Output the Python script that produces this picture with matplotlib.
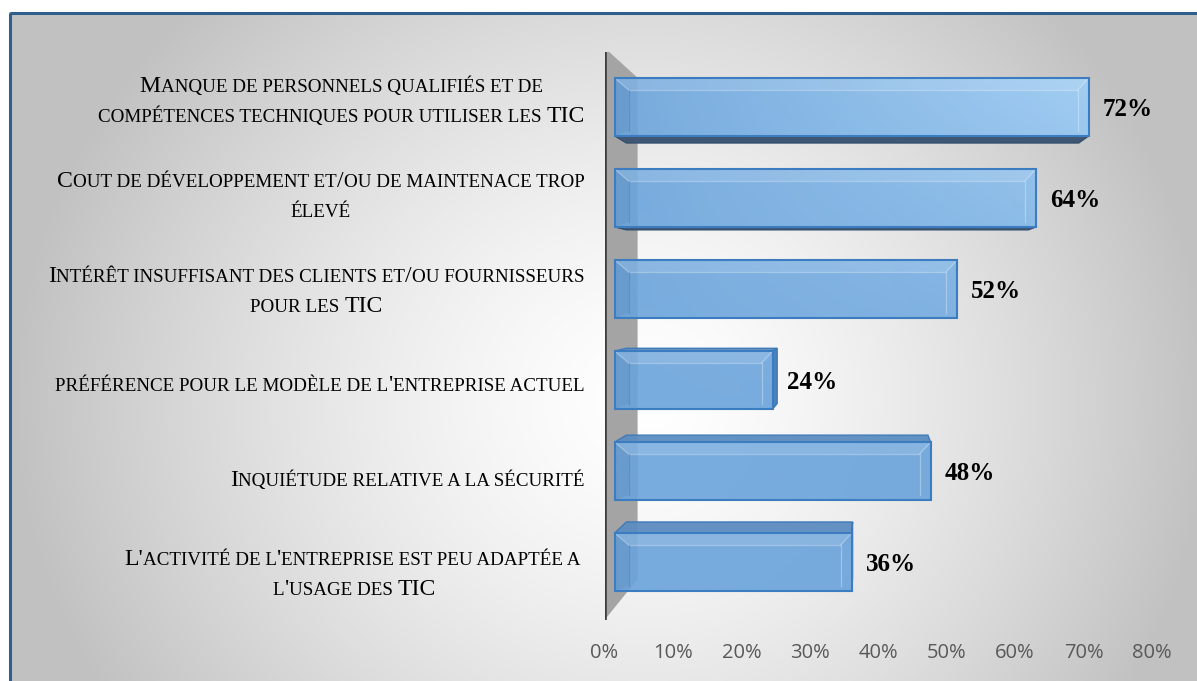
import numpy as np
import matplotlib
matplotlib.use("Agg")
import matplotlib.pyplot as plt
from matplotlib.patches import Polygon, Rectangle
from matplotlib.colors import to_rgb

# ---- data -------------------------------------------------------------
categories = [
    "Manque de personnels qualifiés et de\ncompétences techniques pour utiliser les TIC",
    "Cout de développement et/ou de maintenace trop\nélevé",
    "Intérêt insuffisant des clients et/ou fournisseurs\npour les TIC",
    "préférence pour le modèle de l'entreprise actuel",
    "Inquiétude relative a la sécurité",
    "L'activité de l'entreprise est peu adaptée a \nl'usage des TIC",
]
values = [0.72, 0.64, 0.52, 0.24, 0.48, 0.36]
value_ticks = [0.0, 0.1, 0.2, 0.3, 0.4, 0.5, 0.6, 0.7, 0.8]
tick_labels = ["0%", "10%", "20%", "30%", "40%", "50%", "60%", "70%", "80%"]

# ---- style ------------------------------------------------------------
W, H = 1197, 681
SERIF = "Liberation Serif"
SANS = "Open Sans"
VP = (0.39, 2.02)         # vanishing point of the 3-D view (data units)
S_FRONT, S_BACK = 0.962, 0.918   # depth scale of bar front / back faces
S_WALL = 0.876                   # depth scale of the back edge of the wall
HALF_BAR = 0.318                 # half bar thickness (category units)

fig = plt.figure(figsize=(W / 100, H / 100), dpi=100)

# pixel-space layer for background, frame and category labels
bg = fig.add_axes([0, 0, 1, 1])
bg.set_xlim(0, W)
bg.set_ylim(H, 0)
bg.axis("off")

# soft radial background inside the frame
gx, gy = np.meshgrid(np.arange(W), np.arange(H))
cx, cy = 650.0, 400.0
rx = np.where(gx < cx, 640.0, 560.0)
t = np.sqrt(((gx - cx) / rx) ** 2 + ((gy - cy) / 570.0) ** 2)
g = 1.0 - (62.0 / 255.0) * np.clip(t, 0, 1) ** 1.4
bgimg = np.dstack([g, g, g])
bgimg[:12, :, :] = 1.0
bgimg[:, :9, :] = 1.0
bg.imshow(bgimg, extent=(0, W, H, 0), zorder=0, interpolation="bilinear")
bg.add_patch(Rectangle((9.5, 12.5), W + 20, H + 20, fill=False,
                       edgecolor="#2d5e8e", lw=2.2, zorder=1))
bg.set_xlim(0, W)
bg.set_ylim(H, 0)

# ---- chart axes (value plane) ----------------------------------------
ax = fig.add_axes([604.5 / W, 1 - 620 / H, 547.5 / W, 567.6 / H])
ax.patch.set_visible(False)
for sp in ax.spines.values():
    sp.set_visible(False)


def proj(x, y, s):
    return (VP[0] + (x - VP[0]) * s, VP[1] + (y - VP[1]) * s)


# side wall
wall_y0, wall_y1 = -0.55, 5.5
ax.add_patch(Polygon([proj(0, wall_y0, 1), proj(0, wall_y0, S_WALL),
                      proj(0, wall_y1, S_WALL), proj(0, wall_y1, 1)],
                     closed=True, facecolor="#a4a4a4", edgecolor="none",
                     zorder=1))
ax.plot([0, 0], [wall_y0, wall_y1], color="#3c3c3c", lw=2.6,
        solid_capstyle="butt", zorder=2)

# gradient used on bar fronts
ex = (0.0, 0.8, 5.5, -0.5)
xs = np.linspace(ex[0], ex[1], 400)
ys = np.linspace(ex[3], ex[2], 400)
GX, GY = np.meshgrid(xs, ys)
tt = np.clip(GX / 0.72, 0, 1) * np.clip((3.4 - GY) / 3.9, 0, 1)
c0 = np.array(to_rgb("#6aa3db"))
c1 = np.array(to_rgb("#a3d3fb"))
grad = c0[None, None, :] * (1 - tt[..., None]) + c1[None, None, :] * tt[..., None]

px_x = 1.0 / 684.0   # one pixel in value units
px_y = 1.0 / 94.6    # one pixel in category units

for i, v in enumerate(values):
    y0, y1 = i - HALF_BAR, i + HALF_BAR
    f = {k: proj(*k, S_FRONT) for k in [(0, y0), (v, y0), (v, y1), (0, y1)]}
    b = {k: proj(*k, S_BACK) for k in [(0, y0), (v, y0), (v, y1), (0, y1)]}
    # bottom face (seen from below)
    if y1 < VP[1]:
        ax.add_patch(Polygon([f[(0, y1)], f[(v, y1)], b[(v, y1)], b[(0, y1)]],
                             facecolor="#3f5773", edgecolor="#34506e",
                             lw=1.0, zorder=3))
    # top face (seen from above)
    if y0 > VP[1]:
        ax.add_patch(Polygon([f[(0, y0)], f[(v, y0)], b[(v, y0)], b[(0, y0)]],
                             facecolor="#5c8cc0", edgecolor="#3b79b9",
                             lw=1.0, alpha=0.95, zorder=3))
    # right end face
    if v < VP[0]:
        ax.add_patch(Polygon([f[(v, y0)], b[(v, y0)], b[(v, y1)], f[(v, y1)]],
                             facecolor="#4a82bd", edgecolor="#3b79b9",
                             lw=1.0, zorder=3))
    # front face with gradient
    fx0, fy0 = f[(0, y0)]
    fx1, fy1 = f[(v, y1)]
    front = Polygon([f[(0, y0)], f[(v, y0)], f[(v, y1)], f[(0, y1)]],
                    facecolor="none", edgecolor="none", zorder=4)
    ax.add_patch(front)
    im = ax.imshow(grad, extent=ex, aspect="auto", zorder=4, alpha=0.9,
                   interpolation="bilinear")
    im.set_clip_path(front)
    # bevel
    ix0, ix1 = fx0 + 14 * px_x, fx1 - 11 * px_x
    iy0, iy1 = fy0 + 12 * px_y, fy1 - 5 * px_y
    ax.add_patch(Polygon([(fx0, fy0), (fx1, fy0), (ix1, iy0), (ix0, iy0)],
                         facecolor="white", alpha=0.13, edgecolor="none",
                         zorder=5))
    ax.add_patch(Polygon([(fx0, fy0), (ix0, iy0), (ix0, iy1), (fx0, fy1)],
                         facecolor="#1c3f6e", alpha=0.08, edgecolor="none",
                         zorder=5))
    ax.plot([ix0, ix1, ix1], [iy0, iy0, iy1], color="white", alpha=0.3,
            lw=0.9, zorder=5)
    ax.plot([ix0, ix0], [iy0, iy1], color="#2f6fb0", alpha=0.35,
            lw=0.9, zorder=5)
    for (ox, oy), (qx, qy) in [((fx0, fy0), (ix0, iy0)), ((fx1, fy0), (ix1, iy0))]:
        ax.plot([ox, qx], [oy, qy], color="white", alpha=0.3, lw=0.9, zorder=5)
    ax.add_patch(Polygon([f[(0, y0)], f[(v, y0)], f[(v, y1)], f[(0, y1)]],
                         fill=False, edgecolor="#3c7cc0", lw=1.5, zorder=6))
    # value label
    ax.annotate(f"{v:.0%}", xy=proj(v, i, S_FRONT), xytext=(10.0, -1.8),
                textcoords="offset points", ha="left", va="center",
                fontfamily=SERIF, fontweight="bold", fontsize=18,
                color="black", zorder=7, annotation_clip=False)

ax.set_xlim(0, 0.8)
ax.set_ylim(5.5, -0.5)
ax.set_yticks([])
ax.set_xticks(value_ticks, tick_labels)
ax.tick_params(axis="x", length=0, pad=16.5, labelsize=14.5, labelcolor="#595959")
for lab in ax.get_xticklabels():
    lab.set_fontfamily(SANS)

# ---- small-caps category labels ---------------------------------------
BIG, SMALL = 17.1, 13.7
renderer = fig.canvas.get_renderer()


def advance(text, size):
    t1 = bg.text(0, 0, "X" + text + "X", fontsize=size, family=SERIF)
    t2 = bg.text(0, 0, "XX", fontsize=size, family=SERIF)
    w = t1.get_window_extent(renderer).width - t2.get_window_extent(renderer).width
    t1.remove()
    t2.remove()
    return w


def runs_of(line):
    runs = []
    for ch in line:
        if ch == " " and runs:
            runs[-1][0] += ch
            continue
        small = ch.islower()
        txt = ch.upper() if small else ch
        if runs and runs[-1][1] == small:
            runs[-1][0] += txt
        else:
            runs.append([txt, small])
    return runs


to_bg = bg.transData.inverted()
LINE_GAP = 30.0
CAP_HALF = 7.6
for i, label in enumerate(categories):
    disp = ax.transData.transform((0, i))
    xr, yc = to_bg.transform(disp)
    xr -= 20
    lines = label.split("\n")
    measured = []
    for line in lines:
        runs = runs_of(line)
        widths = [advance(r, SMALL if s else BIG) for r, s in runs]
        measured.append((runs, widths, sum(widths)))
    block_w = max(m[2] for m in measured)
    center_x = xr - block_w / 2
    n = len(lines)
    for k, (runs, widths, tw) in enumerate(measured):
        base = yc + (k - (n - 1) / 2) * LINE_GAP + CAP_HALF
        x = center_x - tw / 2
        for (r, s), w in zip(runs, widths):
            bg.text(x, base, r, fontsize=SMALL if s else BIG, family=SERIF,
                    ha="left", va="baseline", color="black", zorder=3)
            x += w

fig.savefig("out.png", dpi=100)
